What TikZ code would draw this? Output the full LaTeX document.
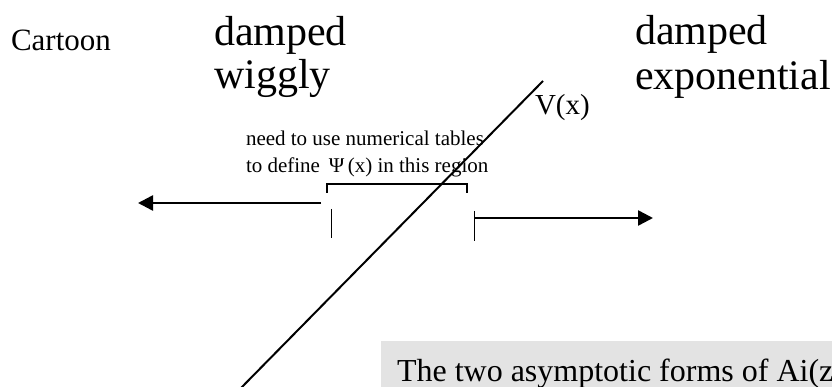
\documentclass[tikz,border=0pt]{standalone}
\usepackage{fontspec}
\setmainfont{Liberation Serif}
\usetikzlibrary{arrows.meta}
\definecolor{boxgray}{RGB}{227,227,227}
\begin{document}
\begin{tikzpicture}[x=1pt,y=-1pt,
  txt/.style={anchor=base west,inner sep=0pt,outer sep=0pt},
  big/.style={txt,font=\fontsize{42}{42}\selectfont},
  mid/.style={txt,font=\fontsize{31}{31}\selectfont},
  small/.style={txt,font=\fontsize{21}{21}\selectfont},
  thick line/.style={line width=2pt},
  arrowline/.style={line width=2.5pt,-{Triangle[length=15pt,width=15pt]}},
  tick/.style={line width=1pt}]
\useasboundingbox (0,0) rectangle (832,387);
% gray caption box
\fill[boxgray] (381,341) rectangle (840,395);
\node[txt,font=\fontsize{32}{32}\selectfont] (caption) at (397,381) {The two asymptotic forms of Ai(z)};
% texts
\node[mid] (cartoon) at (11,51) {Cartoon};
\node[big] (dampL) at (214,46) {damped};
\node[big] (wiggly) at (214,89) {wiggly};
\node[big] (dampR) at (635,45) {damped};
\node[big] (expo) at (635,90) {exponential};
\node[txt,font=\fontsize{29}{29}\selectfont] (V) at (535,115) {V(x)};
\node[small] (note1) at (246,146) {need to use numerical tables};
\node[small] (note2) at (246,173) {to define \,Ψ\,(x) in this region};
% potential line
\coordinate (Vtop) at (543,81);
\coordinate (Vbot) at (239,390);
\draw[thick line] (Vtop) -- (Vbot);
% bracket
\coordinate (bl) at (327,193);
\coordinate (br) at (467,193);
\draw[thick line] (bl) -- (327,184) -- (467,184) -- (br);
% arrows
\coordinate (la0) at (321,203);
\coordinate (la1) at (138,203);
\draw[arrowline] (la0) -- (la1);
\coordinate (ra0) at (474,218);
\coordinate (ra1) at (653,218);
\draw[arrowline] (ra0) -- (ra1);
% ticks
\coordinate (t1a) at (331,209);
\coordinate (t1b) at (331,238);
\draw[tick] (t1a) -- (t1b);
\coordinate (t2a) at (474,211);
\coordinate (t2b) at (474,241);
\draw[tick] (t2a) -- (t2b);
\end{tikzpicture}
\end{document}
